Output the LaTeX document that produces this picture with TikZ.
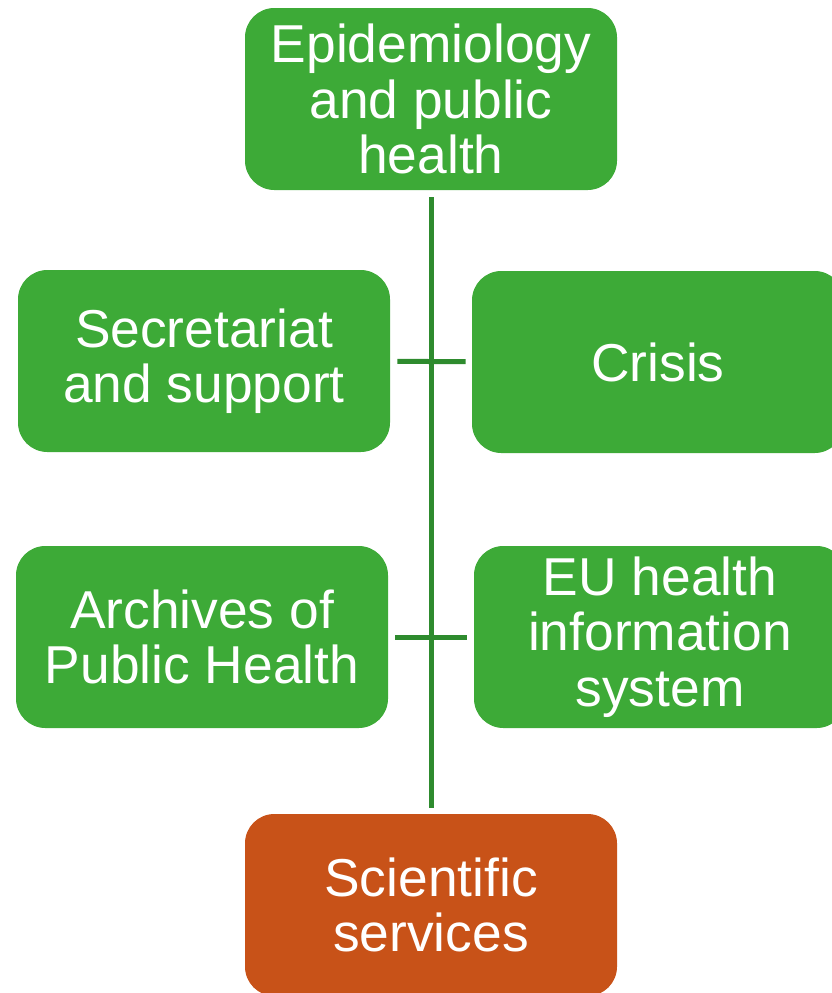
\documentclass[tikz,border=0pt]{standalone}
\usepackage{fontspec}
\setmainfont{Liberation Sans}
\usetikzlibrary{positioning}
\definecolor{boxgreen}{HTML}{3DAA37}
\definecolor{linegreen}{HTML}{2E8B2E}
\definecolor{boxorange}{HTML}{C85218}
\tikzset{
    unit/.style={rectangle, rounded corners=22pt, minimum width=279pt, minimum height=136.5pt, align=center, text=white, font=\fontsize{40}{41.5}\selectfont},
    group/.style={unit, fill=boxgreen},
    service/.style={unit, fill=boxorange},
    link/.style={draw=linegreen, line width=3.75pt}
}
\begin{document}
\begin{tikzpicture}[x=0.75pt, y=-0.75pt]
\useasboundingbox (0,0) rectangle (832,993);

% Top unit
\node (epi) [group] at (431,99) {Epidemiology\\and public\\health};

% First row
\node (secr) [group] at (204,361) {Secretariat\\and support};
\node (crisis) [group] at (658,362) {Crisis};

% Second row
\node (arch) [group] at (202,637) {Archives of\\Public Health};
\node (euhis) [group] at (660,637) {EU health\\information\\system};

% Bottom unit
\node (sci) [service] at (431,905) {Scientific\\services};

% Lines
\draw[link, shorten <=5.25pt, shorten >=4.5pt] (epi) -- (sci);
\draw[link, shorten <=5.25pt, shorten >=4.5pt] (secr) -- (crisis);
\draw[link, shorten <=5.25pt, shorten >=5.25pt] (arch) -- (euhis);

\end{tikzpicture}
\end{document}
